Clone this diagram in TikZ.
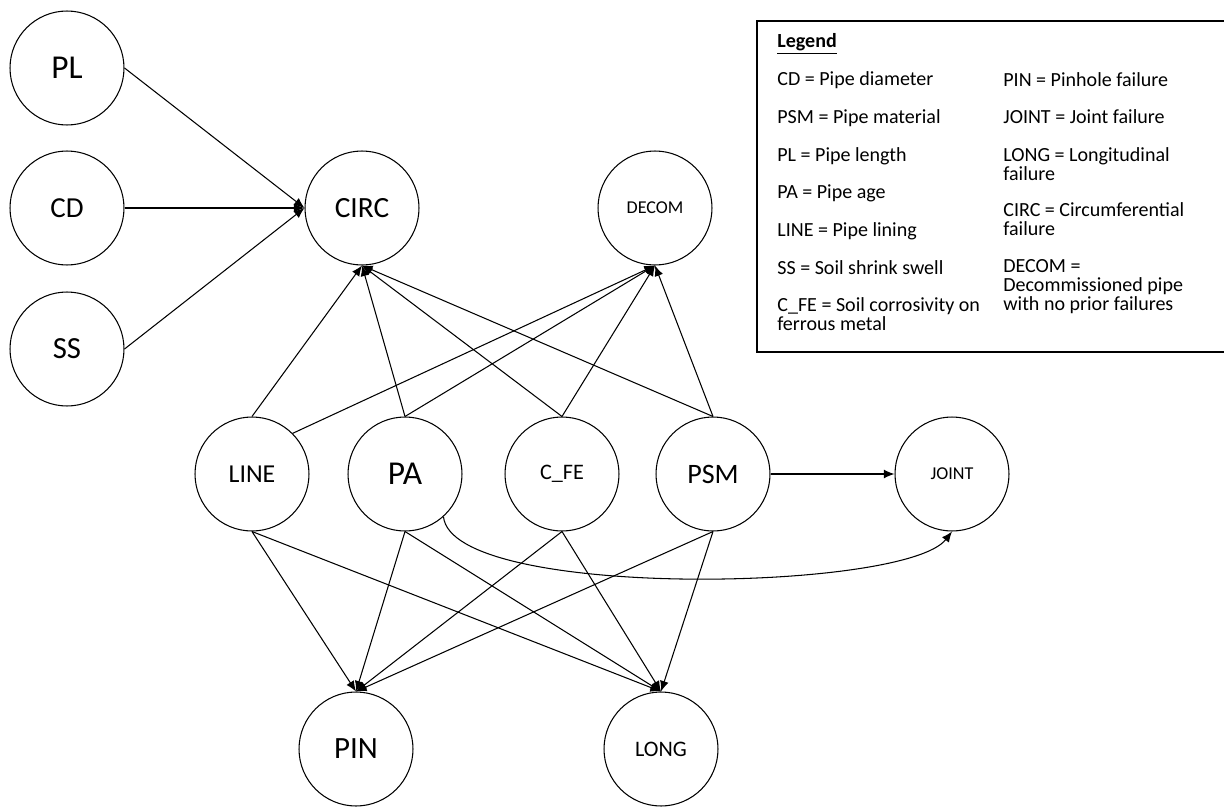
\documentclass[tikz,border=0pt]{standalone}
\usepackage{fontspec}
\setmainfont{Carlito}
\usetikzlibrary{arrows.meta}
\tikzstyle{var}=[draw, shape=circle, minimum size=2.28cm, inner sep=0pt, line width=0.6pt]
\tikzstyle{leg}=[anchor=base west, inner sep=0pt, font=\fontsize{11.4}{13}\selectfont]
\tikzstyle{edge}=[->, line width=0.6pt]
\tikzset{>={Latex[length=6pt,width=5pt]}}

\begin{document}
\begin{tikzpicture}[x=0.02cm, y=-0.02cm]
\useasboundingbox (0,0) rectangle (1224,808);
% the three roots on the left
\node[var, font=\fontsize{19}{20}\selectfont] (PL) at (67,68) {PL};
\node[var, font=\fontsize{16.5}{18}\selectfont] (CD) at (67,208) {CD};
\node[var, font=\fontsize{17.5}{18}\selectfont] (SS) at (67,349) {SS};
% the ``upper'' failures
\node[var, font=\fontsize{16.7}{18}\selectfont] (CIRC) at (362,208) {CIRC};
\node[var, font=\fontsize{10.3}{12}\selectfont] (DECOM) at (655,208) {DECOM};
% the middle row
\node[var, font=\fontsize{14.7}{16}\selectfont] (LINE) at (252,474) {LINE};
\node[var, font=\fontsize{19}{20}\selectfont] (PA) at (405,474) {PA};
\node[var, font=\fontsize{12.6}{14}\selectfont] (CFE) at (562,474) {C\_FE};
\node[var, font=\fontsize{16}{18}\selectfont] (PSM) at (713,474) {PSM};
\node[var, font=\fontsize{10.3}{12}\selectfont] (JOINT) at (952,474) {JOINT};
% the ``lower'' failures
\node[var, font=\fontsize{17.6}{18}\selectfont] (PIN) at (356,749) {PIN};
\node[var, font=\fontsize{12.6}{14}\selectfont] (LONG) at (661,749) {LONG};
% the edges into CIRC
\draw[edge] (PL.east) -- (CIRC.west);
\draw[edge] (CD.east) -- (CIRC.west);
\draw[edge] (SS.east) -- (CIRC.west);
\draw[edge] (LINE.north) -- (CIRC.south);
\draw[edge] (PA.north) -- (CIRC.south);
\draw[edge] (CFE.north) -- (CIRC.south);
\draw[edge] (PSM.north) -- (CIRC.south);
% the edges into DECOM
\draw[edge] (LINE.45) -- (DECOM.south);
\draw[edge] (PA.north) -- (DECOM.south);
\draw[edge] (CFE.north) -- (DECOM.south);
\draw[edge] (PSM.north) -- (DECOM.south);
% the edges into JOINT
\draw[edge] (PSM.east) -- (JOINT.west);
\draw[edge] (PA.-48) .. controls (452,600) and (905,592) .. (JOINT.south);
% the edges into PIN and LONG
\draw[edge] (LINE.south) -- (PIN.north);
\draw[edge] (PA.south) -- (PIN.north);
\draw[edge] (CFE.south) -- (PIN.north);
\draw[edge] (PSM.south) -- (PIN.north);
\draw[edge] (LINE.south) -- (LONG.north);
\draw[edge] (PA.south) -- (LONG.north);
\draw[edge] (CFE.south) -- (LONG.north);
\draw[edge] (PSM.south) -- (LONG.north);
% the legend
\draw[line width=1.1pt] (757,21) rectangle (1240,352);
\node[leg] (Lhead) at (777,47) {\textbf{\underline{Legend}}};
\node[leg] (L1) at (777,85) {CD = Pipe diameter};
\node[leg] (L2) at (777,123) {PSM = Pipe material};
\node[leg] (L3) at (777,161) {PL = Pipe length};
\node[leg] (L4) at (777,198) {PA = Pipe age};
\node[leg] (L5) at (777,236) {LINE = Pipe lining};
\node[leg] (L6) at (777,274) {SS = Soil shrink swell};
\node[leg] (L7) at (777,311) {C\_FE = Soil corrosivity on};
\node[leg] (L7b) at (777,330) {ferrous metal};
\node[leg] (R1) at (1003,86) {PIN = Pinhole failure};
\node[leg] (R2) at (1003,123) {JOINT = Joint failure};
\node[leg] (R3) at (1003,161) {LONG = Longitudinal};
\node[leg] (R3b) at (1003,180) {failure};
\node[leg] (R4) at (1003,216) {CIRC = Circumferential};
\node[leg] (R4b) at (1003,235) {failure};
\node[leg] (R5) at (1003,272) {DECOM =};
\node[leg] (R5b) at (1003,291) {Decommissioned pipe};
\node[leg] (R5c) at (1003,310) {with no prior failures};
\end{tikzpicture}
\end{document}
